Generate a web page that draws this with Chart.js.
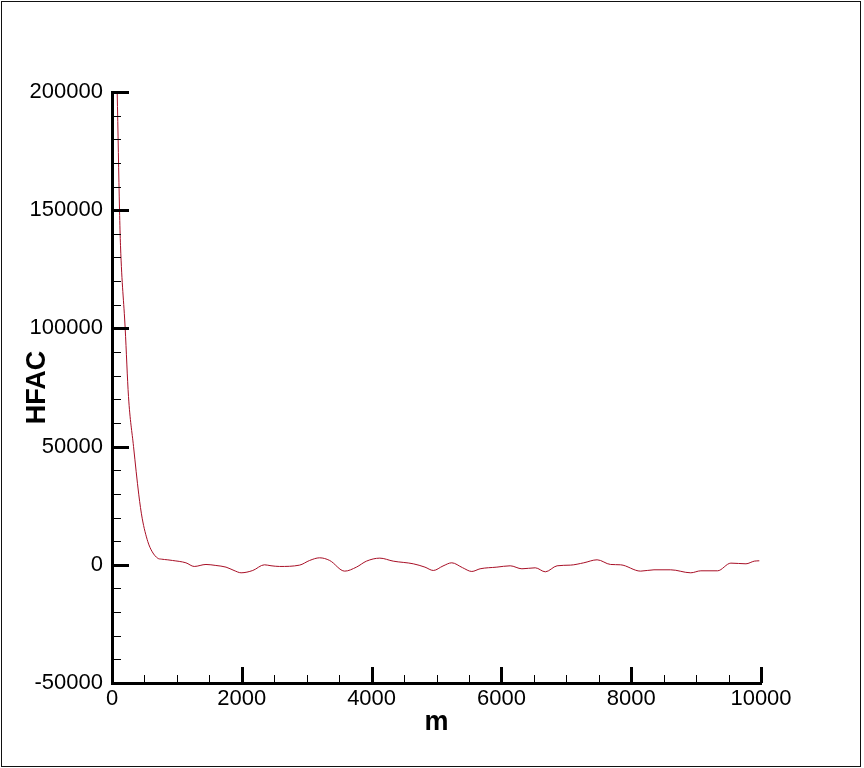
<!DOCTYPE html>
<html>
<head>
<meta charset="utf-8">
<script src="https://cdn.jsdelivr.net/npm/chart.js"></script>
<style>
  body { margin: 0; background: #fff; }
  canvas { display: block; }
</style>
</head>
<body>
<canvas id="hfac-chart" width="864" height="768"></canvas>
<script>
// lag m and HFAC values
const lags = [0, 40, 80, 116, 131, 203, 254, 332, 413, 465, 552, 620, 706, 760, 860, 932,
  1139, 1267, 1448, 1600, 1757, 1880, 1989, 2169, 2349, 2450, 2581, 2890, 3045, 3199, 3354,
  3586, 3766, 3921, 4127, 4333, 4642, 4822, 4951, 5100, 5235, 5400, 5544, 5672, 5930, 6136,
  6316, 6522, 6677, 6858, 7063, 7269, 7475, 7682, 7836, 8145, 8351, 8609, 8918, 9073, 9330,
  9536, 9768, 9897, 9974];
const hfac = [310000, 250000, 200000, 150000, 135000, 100000, 71200, 50000, 29600, 19700,
  9800, 5500, 2750, 2400, 2100, 1830, 846, -705, 141, -280, -987, -2400, -3384, -2400, 0,
  -400, -705, -141, 1830, 2960, 1830, -2680, -987, 1550, 2820, 1550, 423, -987, -2400, -500,
  846, -1200, -2820, -1690, -987, -423, -1690, -1270, -2960, -423, -141, 846, 2115, 141, 0,
  -2680, -2115, -2115, -3384, -2540, -2540, 705, 423, 1550, 1690];

const xTicks = { min: 0, max: 10000, major: 2000, minor: 500 };
const yTicks = { min: -50000, max: 200000, major: 50000, minor: 10000 };

const points = lags.map((m, i) => ({ x: m, y: hfac[i] }));

// white page with a thin frame round it
const frame = {
  id: "frame",
  beforeDraw(chart) {
    const ctx = chart.ctx;
    ctx.save();
    ctx.fillStyle = "#fff";
    ctx.fillRect(0, 0, chart.width, chart.height);
    ctx.strokeStyle = "#111";
    ctx.lineWidth = 1;
    ctx.strokeRect(1.5, 1.5, 859, 765);
    ctx.restore();
  },
};

// tecplot style ticks pointing into the plot
const inwardTicks = {
  id: "inwardTicks",
  afterDraw(chart) {
    const ctx = chart.ctx;
    const xs = chart.scales.x;
    const ys = chart.scales.y;
    const area = chart.chartArea;
    ctx.save();
    ctx.strokeStyle = "#000";
    for (let v = xTicks.min; v <= xTicks.max; v += xTicks.minor) {
      const major = v % xTicks.major === 0;
      const px = Math.round(xs.getPixelForValue(v)) + 0.5;
      ctx.lineWidth = major ? 3 : 1;
      ctx.beginPath();
      ctx.moveTo(px, area.bottom);
      ctx.lineTo(px, area.bottom - (major ? 16 : 8));
      ctx.stroke();
    }
    for (let v = yTicks.min; v <= yTicks.max; v += yTicks.minor) {
      const major = v % yTicks.major === 0;
      const py = Math.round(ys.getPixelForValue(v)) + 0.5;
      ctx.lineWidth = major ? 3 : 1;
      ctx.beginPath();
      ctx.moveTo(area.left, py);
      ctx.lineTo(area.left + (major ? 17 : 9), py);
      ctx.stroke();
    }
    ctx.restore();
  },
};

const tickFont = { family: "Arial, 'Liberation Sans'", size: 22 };
const titleFont = { family: "Arial, 'Liberation Sans'", size: 27, weight: "bold" };

new Chart(document.getElementById("hfac-chart"), {
  type: "line",
  data: {
    datasets: [
      {
        label: "HFAC",
        data: points,
        borderColor: "#a80f26",
        borderWidth: 1,
        pointRadius: 0,
        fill: false,
        cubicInterpolationMode: "monotone",
      },
    ],
  },
  options: {
    responsive: false,
    animation: false,
    layout: { padding: { left: 0, right: 103, top: 92, bottom: 0 } },
    plugins: {
      legend: { display: false },
      tooltip: { enabled: false },
    },
    scales: {
      x: {
        type: "linear",
        min: xTicks.min,
        max: xTicks.max,
        ticks: {
          stepSize: xTicks.major,
          color: "#000",
          font: tickFont,
          padding: 3,
          maxRotation: 0,
          callback: (v) => String(v),
        },
        grid: { drawOnChartArea: false, drawTicks: false },
        border: { display: true, color: "#000", width: 3 },
        title: { display: true, text: "m", color: "#000", font: titleFont, padding: { bottom: 29 } },
        afterFit(scale) {
          scale.height = 85;
        },
      },
      y: {
        min: yTicks.min,
        max: yTicks.max,
        ticks: {
          stepSize: yTicks.major,
          color: "#000",
          font: tickFont,
          padding: 9,
          callback: (v) => String(v),
        },
        grid: { drawOnChartArea: false, drawTicks: false },
        border: { display: true, color: "#000", width: 3 },
        title: { display: true, text: "HFAC", color: "#000", font: titleFont, padding: { top: 21 } },
        afterFit(scale) {
          scale.width = 112;
        },
      },
    },
  },
  plugins: [frame, inwardTicks],
});
</script>
</body>
</html>
